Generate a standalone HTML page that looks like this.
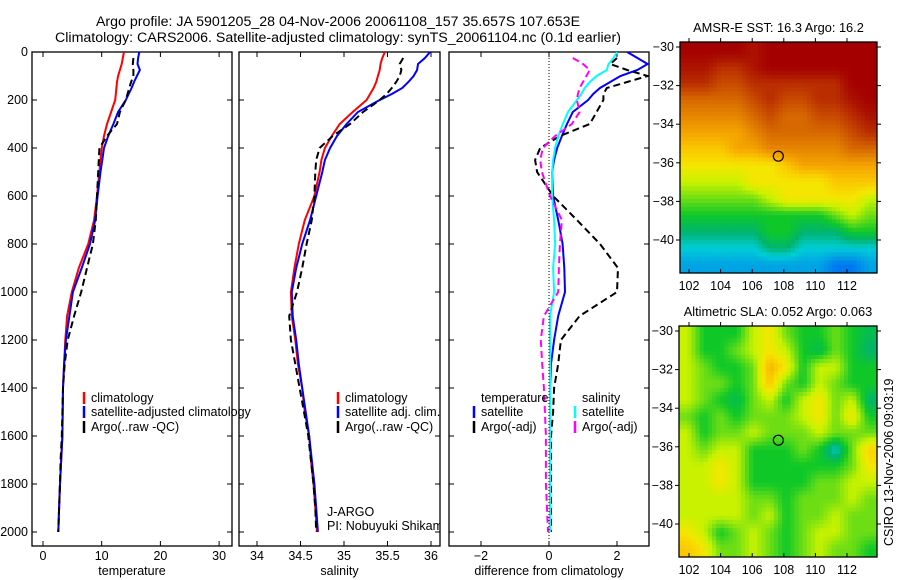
<!DOCTYPE html>
<html><head><meta charset="utf-8">
<style>
body{margin:0;background:#fff;}
svg{display:block;font-family:"Liberation Sans",sans-serif;}
</style></head>
<body>
<svg id="fig" width="900" height="580" viewBox="0 0 900 580">
<text x="338" y="26" font-size="14.2" text-anchor="middle">Argo profile: JA 5901205_28 04-Nov-2006 20061108_157 35.657S 107.653E</text>
<text x="338" y="42" font-size="14.2" text-anchor="middle">Climatology: CARS2006. Satellite-adjusted climatology: synTS_20061104.nc (0.1d earlier)</text>
</svg>
<script>
// ---------- data ----------
const depths = [0,25,50,75,100,125,150,175,200,250,300,350,400,450,500,600,700,800,900,1000,1100,1200,1300,1400,1500,1600,1700,1800,1900,2000];
const tempClim = [13.8,13.6,13.4,13.1,12.8,12.6,12.5,12.4,12.3,11.6,10.9,10.4,10.0,9.8,9.6,9.2,8.7,7.7,6.1,4.9,4.1,3.8,3.6,3.4,3.35,3.3,3.1,2.9,2.75,2.6];
const tempSat = [16.4,16.2,16.1,16.5,16.0,15.5,15.1,14.6,14.1,12.8,12.0,11.1,10.4,10.1,9.8,9.3,8.9,8.0,6.6,5.1,4.5,3.9,3.6,3.4,3.35,3.3,3.1,2.9,2.75,2.6];
const tempArgo = [null,15.4,15.3,15.4,15.4,15.0,14.7,14.4,14.1,13.1,12.6,10.9,9.6,9.5,9.4,9.2,9.0,8.5,7.5,6.5,5.3,4.2,3.7,3.4,3.3,3.2,3.0,2.9,2.75,2.6];
const salClim = [35.47,35.44,35.42,35.41,35.39,35.37,35.34,35.30,35.26,35.10,34.95,34.86,34.78,34.74,34.72,34.66,34.55,34.48,34.43,34.39,34.40,34.44,34.47,34.52,34.55,34.60,34.62,34.65,34.67,34.69];
const salSat = [35.99,35.93,35.85,35.84,35.80,35.74,35.67,35.55,35.41,35.16,35.03,34.92,34.84,34.78,34.75,34.68,34.61,34.52,34.45,34.40,34.41,34.45,34.48,34.52,34.56,34.60,34.63,34.66,34.68,34.70];
const salArgo = [null,35.68,35.64,35.66,35.64,35.60,35.55,35.49,35.41,35.22,35.07,34.87,34.72,34.68,34.67,34.66,34.63,34.57,34.52,34.46,34.37,34.39,34.44,34.49,34.54,34.59,34.62,34.65,34.67,34.68];
const diffTempSat = [2.3,2.6,2.9,2.6,2.1,1.8,1.5,1.3,1.15,0.7,0.53,0.38,0.24,0.15,0.09,0.12,0.27,0.4,0.45,0.47,0.27,0.15,0.06,0.03,0.03,0.03,0.03,0.03,0.03,0.03];
const diffTempArgo = [null,2.0,1.8,2.3,2.9,2.3,1.7,1.6,1.6,1.4,1.2,0.32,-0.26,-0.41,-0.35,0.12,0.82,1.5,2.03,2.0,0.9,0.35,0.27,0.15,0.12,0.06,0.06,0.06,0.06,0.06];
const diffSalSat = [2.0,1.9,1.75,1.7,1.4,1.2,1.05,0.95,0.82,0.56,0.41,0.27,0.18,0.12,0.09,0.09,0.15,0.18,0.12,0.15,0.03,0.03,0.03,0.03,0.03,0.03,0.03,0.03,0.03,0.03];
const diffSalArgo = [null,0.7,1.0,1.2,1.1,1.0,0.9,0.85,0.82,0.9,0.67,0.18,-0.18,-0.26,-0.21,0.03,0.38,0.32,0.29,0.27,-0.15,-0.24,-0.2,-0.15,-0.12,-0.09,-0.09,-0.09,-0.06,-0.03];
const depthTicks = [0,200,400,600,800,1000,1200,1400,1600,1800,2000];
const tempTicks = [0,10,20,30];
const salTicks = [34,34.5,35,35.5,36];
const diffTicks = [-2,0,2];
const lonTicks = [102,104,106,108,110,112];
const latTicks = [-30,-32,-34,-36,-38,-40];
const sstGrid = [
[10,10,10,10,9.5,10,10,10,10,10,10,10],
[9.5,9.5,9,9,9.5,10,10,10,10,10,10,10],
[9,9,8.5,8.5,9,9,9,9,9,9,10,10],
[8,8,8,8,8.5,9,8.5,8.5,9,9,9.5,10],
[7.5,7.5,7.5,7.5,8,8.5,8,8,8.5,8.5,9,9.5],
[7,7,7,7,7.5,8,8,8,8,8,8.5,9],
[6.5,6.5,6.5,7,7,7.5,7.5,7.5,7.5,7.5,8,8],
[6,6,6,6,6,6,6.5,7,7,7,7,7],
[5.5,5.5,5.5,5.5,6,6,6,6,6,6.5,6.5,6.5],
[5,5,5,5,5,5.5,6,6,6,6,6,5.5],
[4.5,4.5,4.5,4.5,4.5,4.5,4.5,4.5,4.5,5,5.5,5],
[4,4,4,4,4,4.5,4.5,4,4,4,4.5,4.5],
[3.5,3.5,3.5,3.5,3.5,4,4,3.5,3.5,3.5,3.5,3.5],
[3,3,3,3,3,3,3,3,3,2.5,2.5,3]];
const slaGrid = [
[5.5,4.5,4.5,4.5,5.5,6,5,4.5,4.5,5,4.5,4.2],
[5.5,4.5,4.5,5,5.5,6,5.5,4.5,4.2,5,4.5,4],
[5.5,5,4.5,4.5,5,6.8,6,4.5,5.5,5.5,4.5,4.5],
[5.5,5,5,4.5,5,6.5,5,4.5,5.5,5,4.5,4.5],
[5.5,5,4.5,4.2,5,5.5,4.5,5.5,6,5,5.5,4],
[5,4.5,5,4.5,5,5,5,5.5,6,5,6,4.5],
[5.5,4.5,5,5,5.5,5,5,5,5.5,5,5,5],
[5.5,5,5.5,5.5,4.5,4.5,4.5,5,4.5,3.5,5,6.3],
[5.5,5.5,6,5.5,4.5,4.5,4.5,4.5,4.5,4.5,5,6],
[5.5,5.5,6,5.5,4.5,4.5,4.5,4.5,5,5,5.5,5.5],
[5.5,5.5,5.5,5.5,5,5,4.5,5,5,5,5.5,5],
[5.5,5.5,5.5,5.5,5,5.5,4.5,5,5,5.5,5,5],
[6,5.5,4.5,5,5.5,5,4.5,5,5.5,5.5,5,5],
[6.5,6,5,5,5.5,5,4.5,5,5.5,5,5,4.5]];
const argoLon = 107.653, argoLat = -35.657;

// ---------- helpers ----------
const NS="http://www.w3.org/2000/svg";
const fig=document.getElementById('fig');
function mk(tag,attrs,parent){const e=document.createElementNS(NS,tag);for(const k in attrs)e.setAttribute(k,attrs[k]);(parent||fig).appendChild(e);return e;}
const PT=52, PB=546;
const yD = d => 52 + d*0.24;
const panels=[
 {x0:32,x1:232,sx:v=>43+v*5.87,ticks:tempTicks,label:'temperature',name:'temperature'},
 {x0:239,x1:440,sx:v=>257+(v-34)*87,ticks:salTicks,label:'salinity',name:'salinity'},
 {x0:449,x1:649,sx:v=>549+v*34,ticks:diffTicks,label:'difference from climatology',name:'difference'}];
panels.forEach((p,i)=>{
 const g=mk('g',{});
 
 
 const cp=mk('clipPath',{id:'cp'+i},g);mk('rect',{x:p.x0,y:PT,width:p.x1-p.x0,height:PB-PT},cp);
 const box=mk('rect',{x:p.x0,y:PT,width:p.x1-p.x0,height:PB-PT,fill:'none',stroke:'#000','stroke-width':1.3},g);
 
 
 depthTicks.forEach(d=>{
  mk('line',{x1:p.x0,x2:p.x0+5,y1:yD(d),y2:yD(d),stroke:'#000'},g);
  mk('line',{x1:p.x1,x2:p.x1-5,y1:yD(d),y2:yD(d),stroke:'#000'},g);
  if(i===0){const t=mk('text',{x:p.x0-4,y:yD(d)+4,'font-size':12.5,'text-anchor':'end'},g);t.textContent=d;
   
   }
 });
 p.ticks.forEach(v=>{
  const x=p.sx(v);
  mk('line',{x1:x,x2:x,y1:PB,y2:PB-5,stroke:'#000'},g);
  mk('line',{x1:x,x2:x,y1:PT,y2:PT+5,stroke:'#000'},g);
  const t=mk('text',{x:x,y:PB+14,'font-size':12.5,'text-anchor':'middle'},g);t.textContent=(v<0?'\u2212'+(-v):v);
  
  
 });
 const xl=mk('text',{x:(p.x0+p.x1)/2,y:575,'font-size':12.5,'text-anchor':'middle'},g);xl.textContent=p.label;
 
 
 p.g=g;
});
const zl=mk('line',{x1:panels[2].sx(0),x2:panels[2].sx(0),y1:PT,y2:PB,stroke:'#000','stroke-dasharray':'1,2'});



function series(pi,vals,color,dash,name){
 const p=panels[pi];let dstr='';let pen=false;
 vals.forEach((v,k)=>{if(v===null){pen=false;return;}dstr+=(pen?'L':'M')+p.sx(v).toFixed(1)+','+yD(depths[k]).toFixed(1);pen=true;});
 const a={d:dstr,fill:'none',stroke:color,'stroke-width':2,'clip-path':'url(#cp'+pi+')'};
 if(dash)a['stroke-dasharray']=dash;
 const e=mk('path',a,p.g);
 
 
}
series(0,tempClim,'#f00',null,'temp-climatology-line');
series(0,tempSat,'#00f',null,'temp-satellite-line');
series(0,tempArgo,'#000','7,4','temp-argo-line');
series(1,salClim,'#f00',null,'sal-climatology-line');
series(1,salSat,'#00f',null,'sal-satellite-line');
series(1,salArgo,'#000','7,4','sal-argo-line');
series(2,diffTempSat,'#00f',null,'diff-temp-satellite-line');
series(2,diffTempArgo,'#000','7,4','diff-temp-argo-line');
series(2,diffSalSat,'#0ff',null,'diff-sal-satellite-line');
series(2,diffSalArgo,'#f0f','7,4','diff-sal-argo-line');

function legend(x,y,color,label,name){
 const g=mk('g',{});
 
 
 if(color)mk('line',{x1:x,x2:x,y1:y-10,y2:y+2,stroke:color,'stroke-width':2.5},g);
 const t=mk('text',{x:x+7,y:y,'font-size':12.5},g);t.textContent=label;
}
legend(84,402,'#f00','climatology','legend-climatology');
legend(84,416,'#00f','satellite-adjusted climatology','legend-satellite');
legend(84,431,'#000','Argo(..raw -QC)','legend-argo');
legend(338,402,'#f00','climatology','legend-sal-climatology');
legend(338,416,'#00f','satellite adj. clim.','legend-sal-satellite');
legend(338,431,'#000','Argo(..raw -QC)','legend-sal-argo');
legend(474,402,null,'temperature','legend-temperature-header');
legend(474,416,'#00f','satellite','legend-diff-temp-satellite');
legend(474,431,'#000','Argo(-adj)','legend-diff-temp-argo');
legend(575,402,null,'salinity','legend-salinity-header');
legend(575,416,'#0ff','satellite','legend-diff-sal-satellite');
legend(575,431,'#f0f','Argo(-adj)','legend-diff-sal-argo');
const j1=mk('text',{x:327,y:516,'font-size':12.5});j1.textContent='J-ARGO';


const j2=mk('text',{x:327,y:530,'font-size':12.5,'clip-path':'url(#cp1)'});j2.textContent='PI: Nobuyuki Shikama';



// ---------- maps ----------
const stops=[[2.5,[0,120,240]],[3.5,[0,205,215]],[4,[0,180,110]],[4.5,[15,200,40]],[5,[110,222,20]],[5.5,[200,242,0]],[6,[245,230,0]],[6.5,[250,200,0]],[7,[245,165,0]],[7.5,[230,135,0]],[8,[215,105,0]],[8.5,[200,75,0]],[9,[185,45,0]],[9.5,[172,18,0]],[10,[165,0,0]]];
function cmap(v){if(v<=stops[0][0])return 'rgb('+stops[0][1]+')';
 for(let i=1;i<stops.length;i++){if(v<=stops[i][0]){const a=stops[i-1],b=stops[i],f=(v-a[0])/(b[0]-a[0]);
  return 'rgb('+a[1].map((c,k)=>Math.round(c+(b[1][k]-c)*f)).join(',')+')';}}
 return 'rgb('+stops[stops.length-1][1]+')';}
function sample(grid,fr,fc){
 const nr=grid.length,nc=grid[0].length;
 fr=Math.max(0,Math.min(nr-1,fr));fc=Math.max(0,Math.min(nc-1,fc));
 const r0=Math.floor(fr),c0=Math.floor(fc),r1=Math.min(nr-1,r0+1),c1=Math.min(nc-1,c0+1),a=fr-r0,b=fc-c0;
 return grid[r0][c0]*(1-a)*(1-b)+grid[r0][c1]*(1-a)*b+grid[r1][c0]*a*(1-b)+grid[r1][c1]*a*b;
}
function drawMap(m){
 const g=mk('g',{});
 
 
 const grid=m.grid,nr=grid.length,nc=grid[0].length,S=4;
 const cw=(m.x1-m.x0)/(nc*S),ch=(m.y1-m.y0)/(nr*S);
 for(let r=0;r<nr*S;r++)for(let c=0;c<nc*S;c++){
  const v=sample(grid,(r+0.5)/S-0.5,(c+0.5)/S-0.5);
  const cell=mk('rect',{x:(m.x0+c*cw).toFixed(2),y:(m.y0+r*ch).toFixed(2),width:(cw+0.5).toFixed(2),height:(ch+0.5).toFixed(2),fill:cmap(v)},g);
  
  
 }
 mk('rect',{x:m.x0,y:m.y0,width:m.x1-m.x0,height:m.y1-m.y0,fill:'none',stroke:'#000','stroke-width':1.3},g);
 const lx=v=>m.lx0+(v-102)*m.lsx, ly=v=>m.ly0+(-30-v)*m.lsy;
 lonTicks.forEach(v=>{const x=lx(v);mk('line',{x1:x,x2:x,y1:m.y0,y2:m.y0-4,stroke:'#000'},g);mk('line',{x1:x,x2:x,y1:m.y1,y2:m.y1-4,stroke:'#000'},g);
  const t=mk('text',{x:x,y:m.y1+17,'font-size':12.5,'text-anchor':'middle'},g);t.textContent=v;
  
  });
 latTicks.forEach(v=>{const y=ly(v);mk('line',{x1:m.x0,x2:m.x0-4,y1:y,y2:y,stroke:'#000'},g);mk('line',{x1:m.x1,x2:m.x1+4,y1:y,y2:y,stroke:'#000'},g);
  const t=mk('text',{x:m.x0-6,y:y+4,'font-size':12.5,'text-anchor':'end'},g);t.textContent='\u2212'+(-v);
  
  });
 const c=mk('circle',{cx:lx(argoLon),cy:ly(argoLat),r:5,fill:'none',stroke:'#000','stroke-width':1.2},g);
 
 
 const t=mk('text',{x:(m.x0+m.x1)/2,y:m.y0-10,'font-size':12.8,'text-anchor':'middle'},g);t.textContent=m.title;
 
 
}
drawMap({name:'sst-map',grid:sstGrid,x0:680,x1:877,y0:42,y1:273,lx0:689,lsx:15.8,ly0:47,lsy:19.3,title:'AMSR-E SST: 16.3 Argo: 16.2'});
drawMap({name:'sla-map',grid:slaGrid,x0:679,x1:877,y0:326,y1:557,lx0:689,lsx:15.8,ly0:331,lsy:19.3,title:'Altimetric SLA: 0.052 Argo: 0.063'});
const cs=mk('text',{x:0,y:0,'font-size':12.5,transform:'translate(893,546) rotate(-90)'});cs.textContent='CSIRO 13-Nov-2006 09:03:19';


</script>
</body></html>
